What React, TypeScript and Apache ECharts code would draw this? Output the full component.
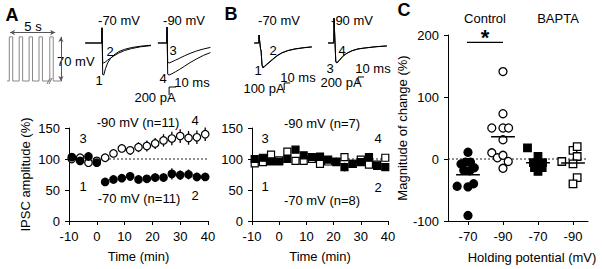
import React, { useEffect, useRef } from "react";
import * as echarts from "echarts";

const FONT = "'Liberation Sans', Arial, Helvetica, sans-serif";

// ---------- Panels A & B: time course ----------
const timePoints = [-9, -6, -3, 0, 3, 6, 9, 12, 15, 18, 21, 24, 27, 30, 33, 36, 39];
const aMinus90 = [100, 102, 94, 97, 102, 109, 117, 114, 119, 121, 125, 130, 133, 137, 134, 135, 140];
const aMinus90Err = [3, 3, 4, 3, 4, 5, 6, 7, 8, 9, 9, 10, 11, 11, 11, 11, 11];
const aMinus70 = [103, 97, 104, 94, 63, 67, 69, 72, 67, 68, 70, 70, 76, 74, 75, 71, 71];
const aMinus70Err = [3, 3, 3, 3, 6, 6, 6, 7, 6, 6, 7, 7, 9, 8, 8, 7, 6];
const bMinus90 = [93, 95, 107, 98, 112, 97, 97, 100, 92, 96, 96, 103, 92, 99, 91, 91, 102];
const bMinus90Err = [4, 4, 5, 4, 5, 5, 5, 5, 5, 6, 6, 6, 6, 6, 6, 6, 6];
const bMinus70 = [100, 102, 96, 96, 100, 115, 106, 103, 104, 99, 95, 87, 92, 95, 103, 89, 87];
const bMinus70Err = [4, 4, 4, 4, 5, 5, 5, 5, 5, 6, 6, 7, 6, 6, 6, 6, 6];

// ---------- Panel C ----------
const cCategories = ["-70", "-90", "-70", "-90"];
const ctrl70Values = [11, -8, -5, -5, -14, -18, -19, -44, -45, -40, -91];
const ctrl70Jitter = [0, -0.2, -0.07, 0.07, 0.18, -0.12, 0.05, -0.31, 0, 0.16, 0];
const ctrl90Values = [141, 73, 50, 50, 50, 31, 10, 2, 6, -4, -15];
const ctrl90Jitter = [0, 0, -0.32, 0, 0.16, 0, -0.32, -0.16, 0, 0.15, 0];
const bapta70Values = [18, 4, -6, -6, -10, -14, -14, -20];
const bapta70Jitter = [-0.3, 0, -0.13, 0.13, 0, -0.1, 0.12, 0];
const bapta90Values = [-4, 14, 20, 4, -8, -30, -40];
const bapta90Jitter = [-0.32, 0, 0.12, 0.12, 0, 0.12, 0];
const sigBarValue = 188;

// ---------- Example traces: [time ms, current pA] ----------
const traceA70_1 = [[-24, 0], [-0.3, 0], [0, 380], [0.5, 380], [1, -790], [2.5, -800], [5, -640], [8, -500], [12, -390], [17, -300], [24, -215], [32, -160], [42, -115], [55, -80], [70, -55]];
const traceA70_2 = [[-24, 0], [-0.3, 0], [0, 380], [0.5, 380], [1, -480], [2.5, -500], [5, -470], [8, -430], [12, -380], [17, -320], [24, -250], [32, -190], [42, -140], [55, -95], [70, -65]];
const traceA90_3 = [[-13, 0], [-0.3, 0], [0, 400], [0.5, 400], [1, -480], [3, -500], [7, -470], [12, -430], [18, -380], [25, -320], [33, -260], [42, -200], [52, -150], [62, -110]];
const traceA90_4 = [[-13, 0], [-0.3, 0], [0, 400], [0.5, 400], [1, -780], [3, -800], [7, -770], [12, -720], [18, -660], [25, -580], [33, -490], [42, -400], [52, -310], [62, -240]];
const traceB70_1 = [[-8, 0], [-0.3, 0], [0, 114], [0.6, 114], [2.5, -80], [3.5, -110], [5, -320], [6.5, -357], [9, -340], [13, -310], [22, -243], [30, -185], [38, -143], [48, -110], [60, -86], [75, -68], [88, -57]];
const traceB70_2 = [[-8, 0], [-0.3, 0], [0, 114], [0.6, 114], [2.5, -85], [3.5, -115], [5, -310], [6.5, -345], [9, -333], [13, -302], [22, -236], [30, -180], [38, -140], [48, -108], [60, -84], [75, -66], [88, -55]];
const traceB90_3 = [[-10, 0], [-0.3, 0], [0, 830], [0.6, 830], [3, -640], [5, -667], [9, -580], [14, -460], [19, -380], [23, -330], [30, -260], [40, -200], [52, -167], [70, -125], [88, -100]];
const traceB90_4 = [[-10, 0], [-0.3, 0], [0, 830], [0.6, 830], [3, -620], [5, -650], [9, -570], [14, -450], [19, -372], [23, -322], [30, -255], [40, -196], [52, -163], [70, -122], [88, -97]];
const scaleA = [[3, -1300], [3, -1100], [13, -1100]];
const scaleB70 = [[42, -671], [42, -571], [52, -571]];
const scaleB90 = [[40, -1333], [40, -1133], [50, -1133]];

// ---------- Stimulation protocol: [time s, mV] ----------
const protocol = [
  [-0.25, -70], [0, -70], [0, 0], [0.38, 0], [0.38, -70],
  [1.1, -70], [1.1, 0], [1.48, 0], [1.48, -70],
  [2.2, -70], [2.2, 0], [2.58, 0], [2.58, -70],
  [3.3, -70], [3.3, 0], [3.68, 0], [3.68, -70],
  [4.5, -70], [4.5, 0], [4.88, 0], [4.88, -70], [5.8, -70],
];

const axisCommon = {
  axisLine: { show: true, onZero: false, lineStyle: { color: "#000", width: 1 } },
  axisTick: { show: true, length: 4, inside: false, lineStyle: { color: "#000", width: 1 } },
  axisLabel: { color: "#000", fontSize: 13, fontFamily: FONT, margin: 9 },
  splitLine: { show: false },
  nameTextStyle: { color: "#000", fontSize: 13, fontFamily: FONT },
};

function traceGrid(x0: number, y0: number, pxMs: number, pxPA: number, tMin: number, tMax: number, pMin: number, pMax: number) {
  return {
    grid: { left: x0 + tMin * pxMs, top: y0 - pMax * pxPA, width: (tMax - tMin) * pxMs, height: (pMax - pMin) * pxPA },
    x: { min: tMin, max: tMax },
    y: { min: pMin, max: pMax },
  };
}

function errSeries(xi: number, yi: number, means: number[], errs: number[]) {
  return {
    type: "custom",
    xAxisIndex: xi,
    yAxisIndex: yi,
    silent: true,
    z: 2,
    encode: { x: 0, y: [1, 2] },
    renderItem: (_p: any, api: any) => {
      const a = api.coord([api.value(0), api.value(1)]);
      const b = api.coord([api.value(0), api.value(2)]);
      return { type: "line", shape: { x1: a[0], y1: a[1], x2: b[0], y2: b[1] }, style: { stroke: "#000", lineWidth: 1.3 } };
    },
    data: timePoints.map((t, i) => [t, means[i] - errs[i], means[i] + errs[i]]),
  };
}

function scatterTime(xi: number, yi: number, vals: number[], symbol: string, filled: boolean, size: number) {
  return {
    type: "scatter",
    xAxisIndex: xi,
    yAxisIndex: yi,
    symbol,
    symbolSize: size,
    silent: true,
    z: 3,
    itemStyle: { color: filled ? "#000" : "#fff", borderColor: "#000", borderWidth: 1.2, opacity: 1 },
    data: timePoints.map((t, i) => [t, vals[i]]),
  };
}

function traceLine(idx: number, data: number[][], width = 1) {
  return {
    type: "line",
    xAxisIndex: idx,
    yAxisIndex: idx,
    data,
    symbol: "none",
    silent: true,
    lineStyle: { color: "#000", width },
  };
}

function mean(a: number[]) {
  return a.reduce((s, v) => s + v, 0) / a.length;
}

function txt(text: string, x: number, y: number, opts: any = {}) {
  return {
    type: "text",
    x,
    y,
    silent: true,
    style: {
      text,
      fill: "#000",
      fontFamily: FONT,
      fontSize: opts.size || 13,
      fontWeight: opts.bold ? "bold" : "normal",
      align: opts.align || "center",
      verticalAlign: "middle",
    },
  };
}

export default function App() {
  const ref = useRef<HTMLDivElement>(null);
  useEffect(() => {
    if (!ref.current) return;
    const chart = echarts.init(ref.current, undefined, { renderer: "svg" });

    const tgA70 = traceGrid(102, 43, 0.7, 0.04, -25, 75, -1400, 500);
    const tgA90 = traceGrid(167, 43, 0.7, 0.04, -15, 62, -1400, 500);
    const tgB70 = traceGrid(259, 43, 0.6, 0.07, -10, 90, -700, 150);
    const tgB90 = traceGrid(334, 43, 0.6, 0.03, -12, 90, -1400, 850);
    const prot = traceGrid(9.3, 81 - 70 * 0.63, 9, 0.63, -0.5, 6, -80, 10);
    const traceGrids = [prot, tgA70, tgA90, tgB70, tgB90];

    const grids: any[] = [
      { left: 69, top: 128, width: 139, height: 93 },
      { left: 252, top: 128, width: 136, height: 93 },
      { left: 448, top: 35, width: 140, height: 186 },
      ...traceGrids.map((g) => g.grid),
    ];

    const xAxes: any[] = [
      { ...axisCommon, type: "value", gridIndex: 0, min: -10, max: 40, interval: 10, name: "Time (min)", nameLocation: "middle", nameGap: 29 },
      { ...axisCommon, type: "value", gridIndex: 1, min: -10, max: 40, interval: 10, name: "Time (min)", nameLocation: "middle", nameGap: 29 },
      {
        ...axisCommon,
        type: "value",
        gridIndex: 2,
        min: -0.571,
        max: 3.429,
        axisTick: { ...axisCommon.axisTick, customValues: [0, 1, 2, 3] },
        axisLabel: { ...axisCommon.axisLabel, customValues: [0, 1, 2, 3], formatter: (v: number) => cCategories[Math.round(v)] },
      },
      ...traceGrids.map((g, i) => ({ type: "value", gridIndex: 3 + i, min: g.x.min, max: g.x.max, show: false })),
    ];
    const yAxes: any[] = [
      { ...axisCommon, type: "value", gridIndex: 0, min: 0, max: 150, interval: 50, name: "IPSC amplitude (%)", nameLocation: "middle", nameGap: 37 },
      { ...axisCommon, type: "value", gridIndex: 1, min: 0, max: 150, interval: 50 },
      { ...axisCommon, type: "value", gridIndex: 2, min: -100, max: 200, interval: 100, name: "Magnitude of change (%)", nameLocation: "middle", nameGap: 31 },
      ...traceGrids.map((g, i) => ({ type: "value", gridIndex: 3 + i, min: g.y.min, max: g.y.max, show: false })),
    ];

    const dotted = { color: "#222", width: 1, type: [2, 2] };
    const cGroup = (vals: number[], jit: number[], ci: number, symbol: string, filled: boolean, size: number) => ({
      type: "scatter",
      xAxisIndex: 2,
      yAxisIndex: 2,
      symbol,
      symbolSize: size,
      silent: true,
      z: 3,
      itemStyle: { color: filled ? "#000" : "#fff", borderColor: "#000", borderWidth: 1.3, opacity: 1 },
      data: vals.map((v, i) => [ci + jit[i], v]),
    });
    const meanLine = (vals: number[], ci: number) => ({
      type: "line",
      xAxisIndex: 2,
      yAxisIndex: 2,
      symbol: "none",
      silent: true,
      z: 4,
      lineStyle: { color: "#000", width: 1.5 },
      data: [[ci - 0.34, mean(vals)], [ci + 0.34, mean(vals)]],
    });

    const series: any[] = [
      // Panel A
      { type: "line", xAxisIndex: 0, yAxisIndex: 0, symbol: "none", silent: true, lineStyle: dotted, data: [[-10, 100], [40, 100]] },
      errSeries(0, 0, aMinus90, aMinus90Err),
      errSeries(0, 0, aMinus70, aMinus70Err),
      scatterTime(0, 0, aMinus90, "circle", false, 7.5),
      scatterTime(0, 0, aMinus70, "circle", true, 7.5),
      // Panel B
      { type: "line", xAxisIndex: 1, yAxisIndex: 1, symbol: "none", silent: true, lineStyle: dotted, data: [[-10, 100], [40, 100]] },
      errSeries(1, 1, bMinus90, bMinus90Err),
      errSeries(1, 1, bMinus70, bMinus70Err),
      scatterTime(1, 1, bMinus90, "rect", false, 7),
      scatterTime(1, 1, bMinus70, "rect", true, 7),
      // Panel C
      { type: "line", xAxisIndex: 2, yAxisIndex: 2, symbol: "none", silent: true, lineStyle: dotted, data: [[-0.571, 0], [3.429, 0]] },
      cGroup(ctrl70Values, ctrl70Jitter, 0, "circle", true, 8),
      cGroup(ctrl90Values, ctrl90Jitter, 1, "circle", false, 8),
      cGroup(bapta70Values, bapta70Jitter, 2, "rect", true, 7.5),
      cGroup(bapta90Values, bapta90Jitter, 3, "rect", false, 7.5),
      meanLine(ctrl70Values, 0),
      meanLine(ctrl90Values, 1),
      meanLine(bapta70Values, 2),
      meanLine(bapta90Values, 3),
      { type: "line", xAxisIndex: 2, yAxisIndex: 2, symbol: "none", silent: true, lineStyle: { color: "#000", width: 1.3 }, data: [[-0.03, sigBarValue], [1.0, sigBarValue]] },
      // Protocol
      {
        type: "line",
        xAxisIndex: 3,
        yAxisIndex: 3,
        data: protocol,
        symbol: "none",
        silent: true,
        lineStyle: { color: "#888", width: 1 },
        markLine: {
          silent: true,
          symbol: ["arrow", "arrow"],
          symbolSize: [4, 5],
          label: { show: false },
          lineStyle: { color: "#555", width: 1, type: "solid" },
          data: [
            [{ coord: [0.08, 7] }, { coord: [5.1, 7] }],
            [{ coord: [5.74, -70] }, { coord: [5.74, 0] }],
          ],
        },
      },
      // Traces
      traceLine(4, traceA70_1),
      traceLine(4, traceA70_2),
      traceLine(5, traceA90_3),
      traceLine(5, traceA90_4),
      traceLine(5, scaleA),
      traceLine(6, traceB70_1),
      traceLine(6, traceB70_2),
      traceLine(6, scaleB70),
      traceLine(7, traceB90_3),
      traceLine(7, traceB90_4),
      traceLine(7, scaleB90),
    ];

    const graphic: any[] = [
      txt("A", 12, 15, { bold: true, size: 18 }),
      txt("B", 231, 14, { bold: true, size: 18 }),
      txt("C", 404, 10, { bold: true, size: 18 }),
      // panel A protocol & traces
      txt("5 s", 33, 26),
      txt("70 mV", 57, 61, { align: "left" }),
      txt("-70 mV", 119, 20),
      txt("-90 mV", 184, 20),
      txt("1", 99, 80),
      txt("2", 110, 51),
      txt("3", 173, 50),
      txt("4", 163, 78),
      txt("10 ms", 192, 82),
      txt("200 pA", 155, 97),
      // panel B traces
      txt("-70 mV", 279, 20),
      txt("-90 mV", 352, 20),
      txt("1", 258, 70),
      txt("2", 273, 50),
      txt("3", 330, 68),
      txt("4", 342, 50),
      txt("10 ms", 298, 77),
      txt("100 pA", 264, 88),
      txt("10 ms", 373, 68),
      txt("200 pA", 341, 82),
      // panel A annotations
      txt("3", 83, 138),
      txt("1", 83, 186),
      txt("-90 mV (n=11)", 138, 122),
      txt("4", 195, 120),
      txt("-70 mV (n=11)", 139, 198),
      txt("2", 195, 195),
      // panel B annotations
      txt("3", 265, 138),
      txt("1", 265, 186),
      txt("-90 mV (n=7)", 322, 123),
      txt("4", 378, 138),
      txt("-70 mV (n=8)", 322, 200),
      txt("2", 378, 187),
      // panel C
      txt("Control", 485, 18),
      txt("BAPTA", 558, 18),
      txt("*", 485, 37, { bold: true, size: 22 }),
      txt("Holding potential (mV)", 532, 257),
      // break mark on protocol
      { type: "line", silent: true, shape: { x1: 47, y1: 84, x2: 50, y2: 78 }, style: { stroke: "#777", lineWidth: 1 } },
      { type: "line", silent: true, shape: { x1: 49, y1: 84, x2: 52, y2: 78 }, style: { stroke: "#777", lineWidth: 1 } },
    ];

    chart.setOption({
      animation: false,
      backgroundColor: "#fff",
      textStyle: { fontFamily: FONT },
      grid: grids,
      xAxis: xAxes,
      yAxis: yAxes,
      series,
      graphic,
    });
    return () => chart.dispose();
  }, []);
  return <div ref={ref} style={{ width: 602, height: 269, position: "absolute", left: 0, top: 0 }} />;
}
